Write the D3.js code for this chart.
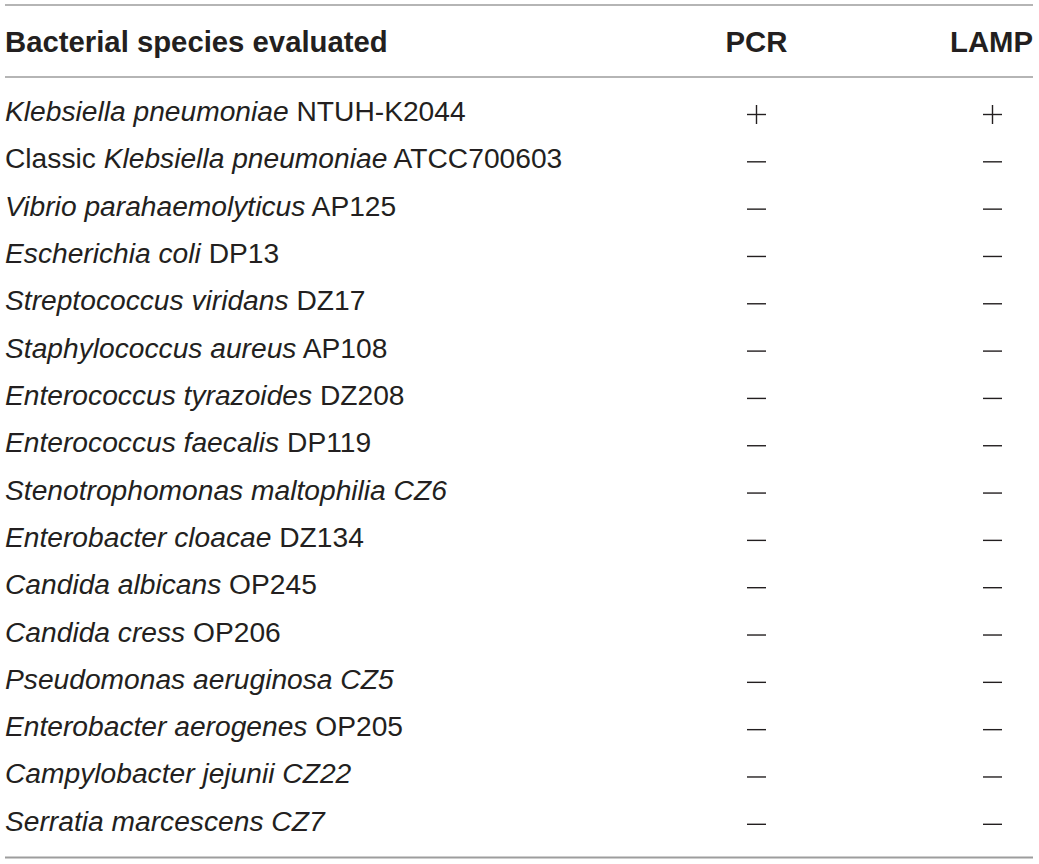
<!DOCTYPE html>
<html>
<head>
<meta charset="utf-8">
<script src="https://cdn.jsdelivr.net/npm/d3@7"></script>
<style>
  html, body { margin: 0; padding: 0; background: #fff; }
  svg { display: block; }
  text { font-family: "Liberation Sans", Arial, Helvetica, sans-serif; fill: #231f20; }
</style>
</head>
<body>
<svg id="chart" width="1039" height="864"></svg>
<script>
// ---- data ----
const headers = ["Bacterial species evaluated", "PCR", "LAMP"];
const prefixes = ["", "Classic ", "", "", "", "", "", "", "", "", "", "", "", "", "", ""];
const genusNames = [
  "Klebsiella pneumoniae", "Klebsiella pneumoniae", "Vibrio parahaemolyticus", "Escherichia coli",
  "Streptococcus viridans", "Staphylococcus aureus", "Enterococcus tyrazoides", "Enterococcus faecalis",
  "Stenotrophomonas maltophilia", "Enterobacter cloacae", "Candida albicans", "Candida cress",
  "Pseudomonas aeruginosa", "Enterobacter aerogenes", "Campylobacter jejunii", "Serratia marcescens"
];
const strains = [
  "NTUH-K2044", "ATCC700603", "AP125", "DP13", "DZ17", "AP108", "DZ208", "DP119",
  "CZ6", "DZ134", "OP245", "OP206", "CZ5", "OP205", "CZ22", "CZ7"
];
const strainItalic = [false, false, false, false, false, false, false, false,
  true, false, false, false, true, false, true, true];
const pcr  = ["+", "−", "−", "−", "−", "−", "−", "−", "−", "−", "−", "−", "−", "−", "−", "−"];
const lamp = ["+", "−", "−", "−", "−", "−", "−", "−", "−", "−", "−", "−", "−", "−", "−", "−"];

// ---- layout ----
const svg = d3.select("#chart");
const left = 5, right = 1033;
const rowIdx = d3.range(genusNames.length);
const y = d3.scalePoint().domain(rowIdx).range([114.5, 824.3]);
const x = d3.scaleOrdinal().domain(["PCR", "LAMP"]).range([756.5, 992.5]);

// rules
const rules = [
  { y: 5, w: 1.6 },
  { y: 77, w: 1.6 },
  { y: 857.5, w: 2 }
];
svg.selectAll("line.rule").data(rules).enter().append("line")
  .attr("class", "rule")
  .attr("x1", left).attr("x2", right)
  .attr("y1", d => d.y).attr("y2", d => d.y)
  .attr("stroke", "#9d9d9d").attr("stroke-width", d => d.w);

// headers
svg.append("text").attr("x", left).attr("y", 52)
  .attr("font-size", 29.3).attr("font-weight", "bold").text(headers[0]);
svg.append("text").attr("x", x("PCR")).attr("y", 52).attr("text-anchor", "middle")
  .attr("font-size", 29.3).attr("font-weight", "bold").text(headers[1]);
svg.append("text").attr("x", right).attr("y", 52).attr("text-anchor", "end")
  .attr("font-size", 29.3).attr("font-weight", "bold").text(headers[2]);

// species labels
const labels = svg.selectAll("text.sp").data(rowIdx).enter().append("text")
  .attr("class", "sp")
  .attr("x", left).attr("y", i => y(i) + 6.5)
  .attr("font-size", 28.2);
labels.each(function(i) {
  const t = d3.select(this);
  if (prefixes[i]) t.append("tspan").text(prefixes[i]);
  t.append("tspan").attr("font-style", "italic").text(genusNames[i]);
  t.append("tspan").attr("font-style", strainItalic[i] ? "italic" : "normal").text(" " + strains[i]);
});

// result marks
const half = 9.5;
function drawMarks(col, vals) {
  const g = svg.append("g");
  vals.forEach((v, i) => {
    const cx = x(col), cy = y(i);
    g.append("line").attr("x1", cx - half).attr("x2", cx + half)
      .attr("y1", cy).attr("y2", cy)
      .attr("stroke", "#231f20").attr("stroke-width", 1.4);
    if (v === "+") {
      g.append("line").attr("x1", cx).attr("x2", cx)
        .attr("y1", cy - half).attr("y2", cy + half)
        .attr("stroke", "#231f20").attr("stroke-width", 1.4);
    }
  });
}
drawMarks("PCR", pcr);
drawMarks("LAMP", lamp);
</script>
</body>
</html>
